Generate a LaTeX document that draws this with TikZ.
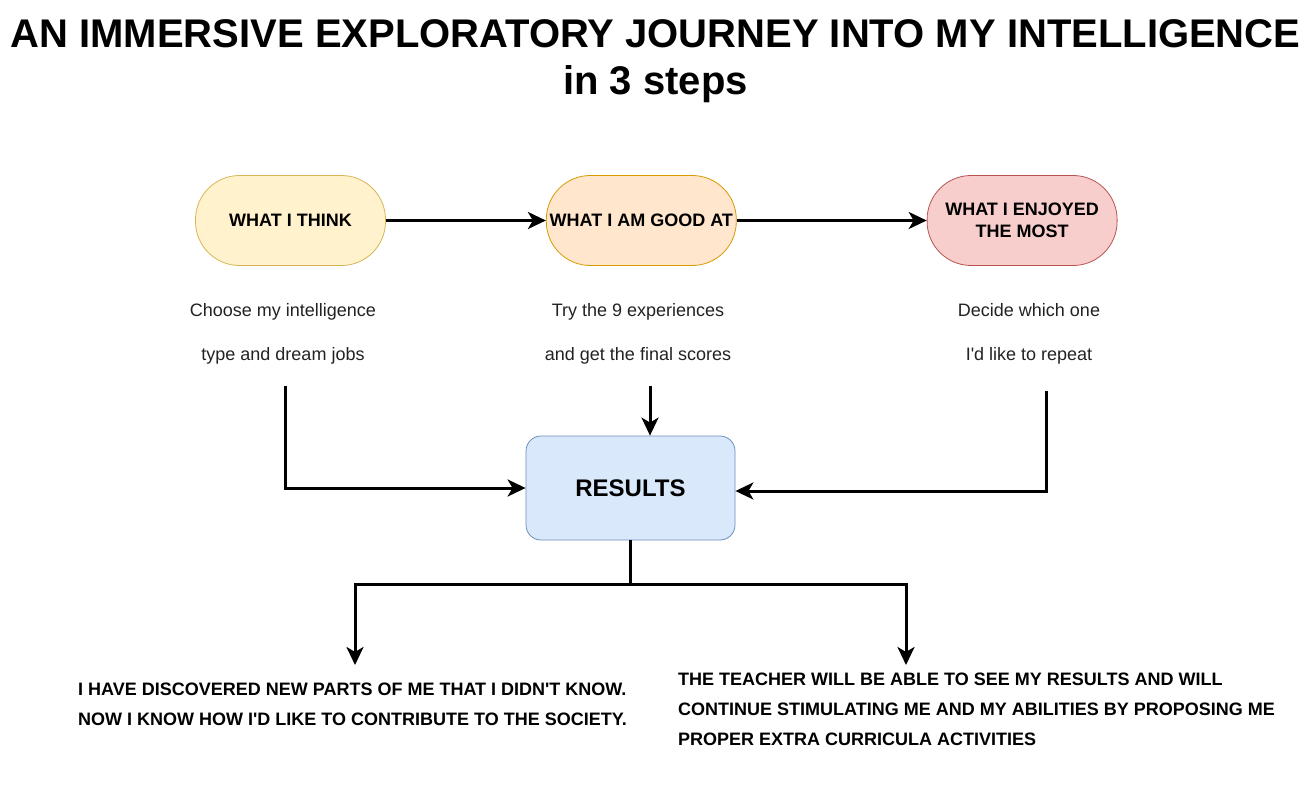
\documentclass[tikz,border=0pt]{standalone}
\usepackage{fontspec}
\setmainfont{Liberation Sans}
\usepackage{tikz}
\usetikzlibrary{arrows.meta, positioning}
\definecolor{thinkfill}{HTML}{FFF2CC}
\definecolor{thinkline}{HTML}{D6B656}
\definecolor{goodfill}{HTML}{FFE6CC}
\definecolor{goodline}{HTML}{D79B00}
\definecolor{enjoyfill}{HTML}{F8CECC}
\definecolor{enjoyline}{HTML}{B85450}
\definecolor{resultfill}{HTML}{DAE8FC}
\definecolor{resultline}{HTML}{6C8EBF}
\definecolor{desctext}{HTML}{222222}
\tikzstyle{arrow} = [line width=3pt,-{Stealth[length=18pt,width=17pt,inset=5pt]}]
\tikzstyle{stepbox} = [draw, line width=0.8pt, rounded corners=44pt, minimum width=190pt, minimum height=90pt, align=center, font=\fontsize{18}{22}\selectfont\bfseries]
\tikzstyle{desc} = [align=center, inner sep=0pt, font=\fontsize{18}{44}\selectfont, text=desctext]
\tikzstyle{outcome} = [align=left, inner sep=0pt, anchor=north west, font=\fontsize{18}{30}\selectfont\bfseries]

\begin{document}
\begin{tikzpicture}[x=1pt, y=-1pt]
                \useasboundingbox (0,0) rectangle (1311,797);

                \node (title) [anchor=north, inner sep=0pt, align=center, font=\fontsize{40}{47}\selectfont\bfseries] at (655.5,19) {AN IMMERSIVE EXPLORATORY JOURNEY INTO MY INTELLIGENCE\\in 3 steps};

                \node (think) [stepbox, fill=thinkfill, draw=thinkline] at (290.5,220.5) {WHAT I THINK};
                \node (good) [stepbox, fill=goodfill, draw=goodline, right=160pt of think] {WHAT I AM GOOD AT};
                \node (enjoy) [stepbox, fill=enjoyfill, draw=enjoyline, right=190pt of good] {WHAT I ENJOYED\\THE MOST};

                \node (descthink) [desc] at (283,334) {Choose my intelligence\\type and dream jobs};
                \node (descgood) [desc] at (638,334) {Try the 9 experiences\\and get the final scores};
                \node (descenjoy) [desc] at (1029,334) {Decide which one\\I\textquotesingle d like to repeat};

                \node (results) [draw=resultline, fill=resultfill, line width=0.8pt, rounded corners=15pt, minimum width=209pt, minimum height=104pt, font=\fontsize{24}{28}\selectfont\bfseries] at (630.5,488) {RESULTS};

                \node (outme) [outcome] at (78,683) {I HAVE DISCOVERED NEW PARTS OF ME THAT I DIDN\textquotesingle T KNOW.\\NOW I KNOW HOW I\textquotesingle D LIKE TO CONTRIBUTE TO THE SOCIETY.};
                \node (outteacher) [outcome] at (678,673) {THE TEACHER WILL BE ABLE TO SEE MY RESULTS AND WILL\\CONTINUE STIMULATING ME AND MY ABILITIES BY PROPOSING ME\\PROPER EXTRA CURRICULA ACTIVITIES};

                \coordinate (fork) at (630.5,584);
                \coordinate (tipme) at (355,665);
                \coordinate (tipteacher) at (906,665);

                \draw [arrow] (think) -- (good);
                \draw [arrow] (good) -- (enjoy);
                \draw [arrow] ([xshift=2pt,yshift=-21pt]descthink.south) |- (results.west);
                \draw [arrow] ([xshift=12pt,yshift=-21pt]descgood.south) coordinate (goodout) -- (goodout |- results.north);
                \draw [arrow] ([xshift=17pt,yshift=-26pt]descenjoy.south) |- ([yshift=-3pt]results.east);
                \draw [line width=3pt] (results.south) -- (fork);
                \draw [arrow] (fork) -| (tipme);
                \draw [arrow] (fork) -| (tipteacher);
            \end{tikzpicture}
\end{document}
